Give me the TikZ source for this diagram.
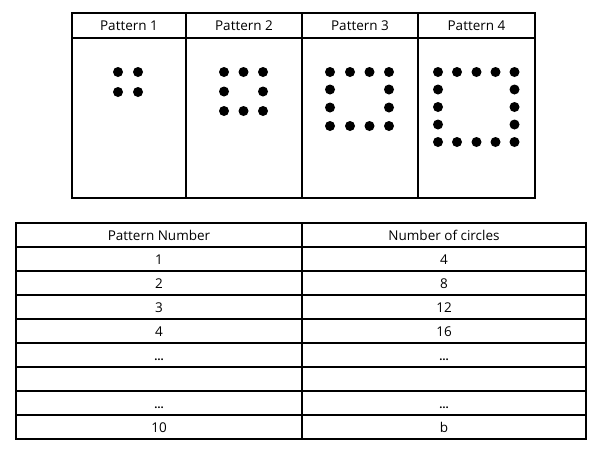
\documentclass[tikz,border=0pt]{standalone}
\usepackage{fontspec}
\setmainfont{Open Sans}
\begin{document}
\begin{tikzpicture}[x=1pt,y=-1pt,
  grid/.style={draw=black,line width=1.1pt},
  txt/.style={font=\fontsize{13.5}{15}\selectfont,inner sep=0pt,anchor=base},
  ell/.style={font=\fontsize{11}{12}\selectfont\bfseries,inner sep=0pt,anchor=base},
  dot/.style={fill=black,draw=none}]
\useasboundingbox (0,0) rectangle (603,453);
% top table
\draw[grid] (72,13) rectangle (535,198);
\draw[grid] (72,38) -- (535,38);
\foreach \x in {186,302,418} \draw[grid] (\x,13) -- (\x,198);
\node[txt] (h1) at (129,30) {Pattern 1};
\node[txt] (h2) at (244,30) {Pattern 2};
\node[txt] (h3) at (360,30) {Pattern 3};
\node[txt] (h4) at (476.5,30) {Pattern 4};
% pattern 1
\foreach \x in {118,138} \foreach \y in {72,92} \fill[dot] (\x,\y) circle (5);
% pattern 2
\foreach \x in {224,243.5,263} \foreach \y in {72,111} \fill[dot] (\x,\y) circle (5);
\foreach \x in {224,263} \fill[dot] (\x,91.5) circle (5);
% pattern 3
\foreach \x in {330,350,369.5,389} \foreach \y in {72,126} \fill[dot] (\x,\y) circle (5);
\foreach \x in {330,389} \foreach \y in {89.5,107.5} \fill[dot] (\x,\y) circle (5);
% pattern 4
\foreach \x in {438,457,476.5,495.5,514.5} \foreach \y in {72,142} \fill[dot] (\x,\y) circle (5);
\foreach \x in {438,514.5} \foreach \y in {89.5,107,124.5} \fill[dot] (\x,\y) circle (5);
% bottom table
\draw[grid] (16,223) rectangle (586,439);
\foreach \i in {1,...,8} \draw[grid] (16,223+24*\i) -- (586,223+24*\i);
\draw[grid] (302,223) -- (302,439);
\node[txt] (c1) at (159,240) {Pattern Number};
\node[txt] (c2) at (444,240) {Number of circles};
\node[txt] (a1) at (159,264) {1};  \node[txt] (b1) at (444,264) {4};
\node[txt] (a2) at (159,288) {2};  \node[txt] (b2) at (444,288) {8};
\node[txt] (a3) at (159,312) {3};  \node[txt] (b3) at (444,312) {12};
\node[txt] (a4) at (159,336) {4};  \node[txt] (b4) at (444,336) {16};
\node[ell] (a5) at (159,360) {…};  \node[ell] (b5) at (444,360) {…};
\node[ell] (a7) at (159,408) {…};  \node[ell] (b7) at (444,408) {…};
\node[txt] (a8) at (159,432) {10}; \node[txt] (b8) at (444,432) {b};
\end{tikzpicture}
\end{document}
